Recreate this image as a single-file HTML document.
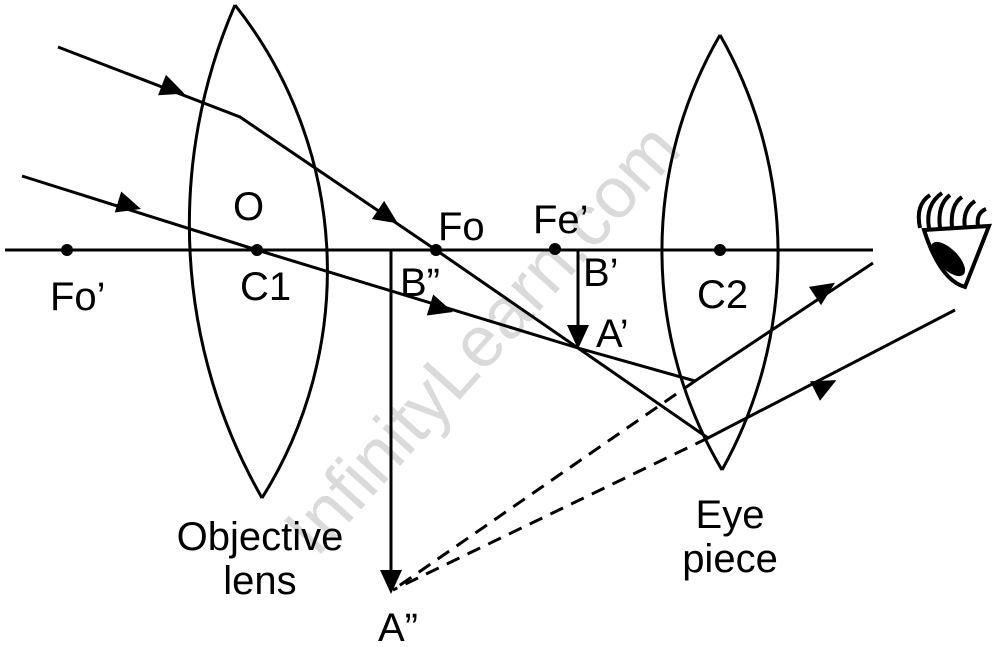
<!DOCTYPE html>
<html><head><meta charset="utf-8"><style>
html,body{margin:0;padding:0;background:#fff;}
svg{display:block;}
text{font-family:"Liberation Sans",sans-serif;font-size:40px;fill:#000;}
</style></head><body>
<svg width="1006" height="647" viewBox="0 0 1006 647" xmlns="http://www.w3.org/2000/svg">
<text x="500" y="355" transform="rotate(-48 500 355)" text-anchor="middle" style="font-size:72px;fill:#dadada">InfinityLearn.com</text>
<g fill="none" stroke="#000" stroke-width="3">
<line x1="5" y1="250" x2="873" y2="250"/>
<path d="M235 5 A551 551 0 0 0 262 498"/>
<path d="M235 5 A428 428 0 0 1 262 498"/>
<path d="M720 35 A430 430 0 0 0 722 470"/>
<path d="M720 35 A443 443 0 0 1 722 470"/>
<polyline points="58,47 240,117 436,250 578,348 708,438 955,310"/>
<polyline points="22,176 257,250 578,348 695,381 873,263"/>
<line x1="391" y1="250" x2="391" y2="575"/>
<line x1="578" y1="250" x2="578" y2="330"/>
<line x1="708" y1="438" x2="393" y2="590" stroke-dasharray="14,9"/>
<line x1="695" y1="381" x2="393" y2="590" stroke-dasharray="14,9"/>
</g>
<g fill="#000">
<circle cx="67" cy="250" r="6"/><circle cx="257" cy="250" r="6"/><circle cx="436" cy="250" r="6"/><circle cx="555" cy="249" r="6"/><circle cx="720" cy="250" r="6"/>
<polygon points="0,-11 24,0 0,11" transform="translate(162,85) rotate(21)"/>
<polygon points="0,-11 24,0 0,11" transform="translate(378,210) rotate(34)"/>
<polygon points="0,-11 24,0 0,11" transform="translate(118,202) rotate(17)"/>
<polygon points="0,-11 24,0 0,11" transform="translate(430,305) rotate(17)"/>
<polygon points="0,-11 24,0 0,11" transform="translate(815,296) rotate(-33.5)"/>
<polygon points="0,-11 24,0 0,11" transform="translate(815,391) rotate(-27)"/>
<polygon points="-11,0 11,0 0,24" transform="translate(578,325)"/>
<polygon points="-11,0 11,0 0,24" transform="translate(391,570)"/>
</g>
<g fill="none" stroke="#000" stroke-width="4">
<path d="M924 230 L989 226 L965 287 Q940 280 924 230 Z"/>
<path d="M920 228 Q915 205 930 195"/>
<path d="M929 228 Q925 205 942 193"/>
<path d="M940 228 Q937 205 950 195"/>
<path d="M952 228 Q950 205 962 197"/>
<path d="M965 228 Q962 210 975 201"/>
<path d="M978 226 Q976 213 986 209"/>
</g>
<ellipse cx="948" cy="259" rx="10" ry="22" transform="rotate(-45 948 259)" fill="#000"/>
<text x="233" y="220">O</text>
<text x="50" y="310">Fo’</text>
<text x="240" y="300">C1</text>
<text x="400" y="296">B”</text>
<text x="438" y="240">Fo</text>
<text x="533" y="233">Fe’</text>
<text x="583" y="286">B’</text>
<text x="596" y="347">A’</text>
<text x="697" y="308">C2</text>
<text x="260" y="550" text-anchor="middle">Objective</text>
<text x="260" y="594" text-anchor="middle">lens</text>
<text x="730" y="528" text-anchor="middle">Eye</text>
<text x="730" y="572" text-anchor="middle">piece</text>
<text x="398" y="641" text-anchor="middle">A”</text>
</svg>
</body></html>
